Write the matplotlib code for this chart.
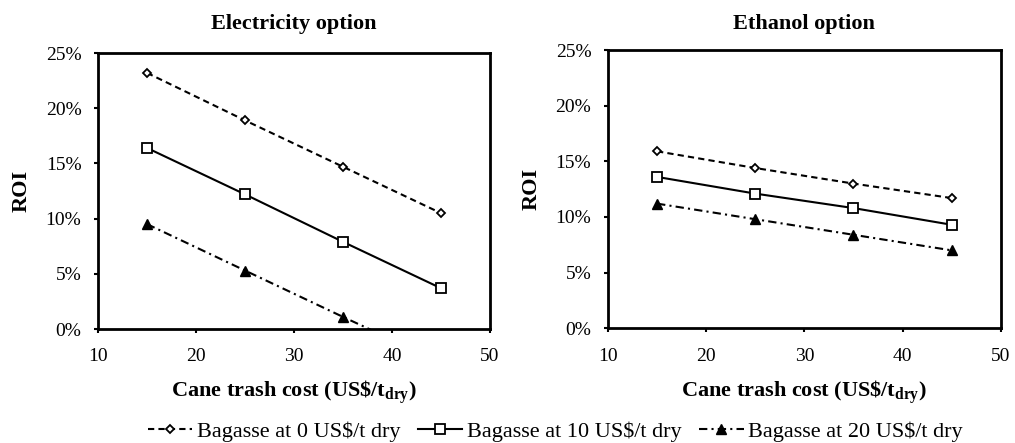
import matplotlib
matplotlib.use("Agg")
import matplotlib.pyplot as plt
from matplotlib.ticker import FuncFormatter
from matplotlib.lines import Line2D

plt.rcParams['font.family'] = ['Liberation Serif', 'DejaVu Serif']
plt.rcParams['mathtext.fontset'] = 'custom'
plt.rcParams['mathtext.rm'] = 'Liberation Serif'
plt.rcParams['mathtext.bf'] = 'Liberation Serif:bold'

cost = [15, 25, 35, 45]
series_labels = ["Bagasse at 0 US$/t dry", "Bagasse at 10 US$/t dry", "Bagasse at 20 US$/t dry"]
elec_b0 = [23.2, 18.9, 14.7, 10.5]
elec_b10 = [16.4, 12.2, 7.9, 3.7]
elec_b20 = [9.5, 5.3, 1.1, -3.0]
eth_b0 = [15.9, 14.4, 13.0, 11.7]
eth_b10 = [13.6, 12.1, 10.8, 9.3]
eth_b20 = [11.2, 9.8, 8.4, 7.0]

styles = [dict(ls=(0, (3, 2)), marker='D', ms=4.5, mfc='white', mec='black', mew=1.3),
          dict(ls='-', marker='s', ms=7, mfc='white', mec='black', mew=1.3),
          dict(ls=(0, (4, 2, 1, 2)), marker='^', ms=7, mfc='black', mec='black', mew=1)]

fig = plt.figure(figsize=(10.15, 4.43), dpi=100)
ax1 = fig.add_axes([0.0966, 0.2573, 0.386, 0.623])
ax2 = fig.add_axes([0.599, 0.259, 0.387, 0.628])

fs = 14
for ax, data, title, tpad in [(ax1, [elec_b0, elec_b10, elec_b20], "Electricity option", 17),
                              (ax2, [eth_b0, eth_b10, eth_b20], "Ethanol option", 15)]:
    for vals, st in zip(data, styles):
        ax.plot(cost, vals, color='black', lw=1.5, clip_on=True, **st)
    ax.set_xlim(10, 50)
    ax.set_ylim(0, 25)
    ax.set_xticks([10, 20, 30, 40, 50])
    ax.set_yticks([0, 5, 10, 15, 20, 25])
    ax.yaxis.set_major_formatter(FuncFormatter(lambda v, p: f"{v:.0f}%"))
    ax.tick_params(direction='out', length=3, width=1.5, labelsize=fs,
                   top=False, right=False)
    ax.tick_params(axis='y', pad=9)
    ax.tick_params(axis='x', pad=11)
    for sp in ax.spines.values():
        sp.set_linewidth(2)
    ax.set_title(title, fontsize=16, fontweight='bold', pad=tpad)
    ax.set_ylabel("ROI", fontsize=16, fontweight='bold', labelpad=10)
    ax.set_xlabel("Cane trash cost (US\\$/t$_{\\mathbf{dry}}$)", fontsize=16,
                  fontweight='bold', labelpad=10)

handles = [Line2D([], [], color='black', lw=1.5, **st) for st in styles]
fig.legend(handles, series_labels, loc='center', bbox_to_anchor=(0.547, 0.026),
           ncol=3, frameon=False, fontsize=16, handlelength=2.0, handletextpad=0.2,
           columnspacing=0.8, borderaxespad=0)

fig.savefig("out.png", dpi=100)
